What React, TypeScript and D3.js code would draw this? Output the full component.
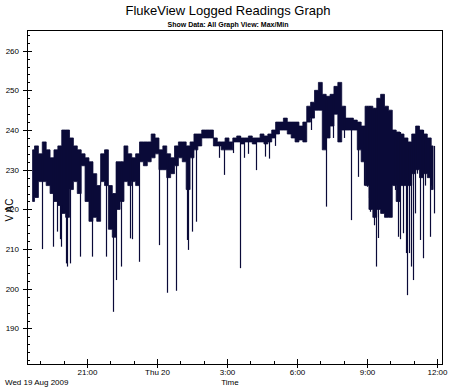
import * as d3 from "d3";

// Min/max envelope, one pair per 10-minute bucket, starting Wed 19 Aug 2009 18:40
const maxV = [
  235, 236, 234, 237, 235, 233, 235, 236, 240, 240,
  238, 236, 235, 234, 233, 232, 229, 226, 234, 235,
  226, 224, 232, 232, 236, 234, 233, 234, 237, 237,
  237, 239, 238, 235, 236, 234, 233, 236, 237, 237,
  236, 237, 239, 239, 240, 240, 240, 238, 237, 237,
  238, 237, 238, 238.5, 238, 238, 238.5, 238, 238, 239,
  238.5, 239, 240, 242, 242, 243, 242, 242, 242, 241,
  242, 246, 247, 250, 252, 249, 248.5, 249, 251, 252,
  246, 243, 243, 242.5, 242, 241, 246, 246, 245.5, 248,
  249, 246, 245, 240, 239.5, 239, 238, 237, 239, 241,
  240, 239, 238, 236,
];
const minV = [
  222, 223, 227, 227, 226, 224, 222, 221, 219, 218,
  225, 227, 224, 231, 222, 217, 218, 217, 227, 226,
  215, 213, 220, 222, 227, 226, 227, 226, 232, 231,
  232, 233, 234, 230, 230, 228, 229, 231, 233, 232,
  225, 233, 235, 236, 238, 238, 238, 236, 236, 235,
  235, 235, 237, 237, 236.5, 237, 237, 236.5, 237, 237,
  236.5, 237, 238, 239, 240, 240, 239, 238, 237, 237.5,
  237, 242, 243, 245, 245, 235, 238, 241, 244, 237,
  240, 240, 240, 240, 235, 232, 226, 220, 218, 220,
  219, 218, 218, 226, 222, 226, 226, 226, 229, 230,
  228, 229, 228, 225,
];

// short dips below the envelope: [clock time, minimum V]
const spikes: [string, number][] = [
  ["19:04", 210], ["19:33", 210.6], ["19:43", 214.4], ["19:51", 212.5],
  ["19:53", 210.6], ["20:07", 206.4], ["20:09", 205.6], ["20:15", 206.4],
  ["20:43", 208.1], ["21:14", 208.1], ["21:49", 208.1], ["22:08", 194.2],
  ["22:15", 202.2], ["22:27", 205.6], ["22:51", 212.7], ["22:56", 212.5],
  ["23:13", 206.8], ["00:06", 211], ["00:25", 199], ["00:48", 199.5],
  ["01:16", 212.3], ["01:20", 209.8], ["01:31", 214.4], ["01:40", 216.9],
  ["02:39", 233], ["02:52", 228.7], ["03:15", 234.2], ["03:34", 205.2],
  ["03:44", 233], ["03:54", 234], ["04:15", 229.9], ["04:37", 233.3],
  ["04:49", 232.8], ["05:04", 236], ["05:54", 238], ["06:35", 240],
  ["07:15", 220.7], ["07:33", 238], ["08:00", 238], ["08:19", 217.3],
  ["08:38", 228.2], ["08:53", 226], ["08:59", 225.7], ["09:05", 222.8],
  ["09:07", 219.4], ["09:17", 216], ["09:24", 205.6], ["09:28", 212.8],
  ["10:13", 224.9], ["10:20", 213.1], ["10:24", 212.5], ["10:33", 214],
  ["10:40", 209], ["10:43", 198.4], ["10:48", 209], ["10:54", 205.6],
  ["10:58", 202.2], ["11:03", 219], ["11:09", 229], ["11:16", 212.3],
  ["11:24", 207.7], ["11:28", 226], ["11:41", 213.1], ["11:45", 226],
  ["11:52", 219],
];

const yMajor = [190, 200, 210, 220, 230, 240, 250, 260];

const W = 459;
const H = 391;
const L = 27;
const R = 443;
const T = 30;
const B = 365;
const INK = "#0a0a38";
const FONT = "'Liberation Sans', Arial, sans-serif";

const start = new Date(2009, 7, 19, 18, 40);

function parseClock(s: string) {
  const [h, m] = s.split(":").map(Number);
  return new Date(2009, 7, h < 18 ? 20 : 19, h, m);
}

export default function App() {
  const x = d3
    .scaleTime()
    .domain([new Date(2009, 7, 19, 18, 25, 40), new Date(2009, 7, 20, 12, 15, 25)])
    .range([L, R]);
  const y = d3.scaleLinear().domain([180.8, 265.2]).range([B, T]);

  const rows = maxV.map((hi, i) => ({
    t: d3.timeMinute.offset(start, i * 10),
    hi,
    lo: minV[i],
  }));

  const area = d3
    .area<(typeof rows)[number]>()
    .x((d) => x(d.t))
    .y0((d) => y(d.lo))
    .y1((d) => y(d.hi))
    .curve(d3.curveStep);

  const bis = d3.bisector((d: (typeof rows)[number]) => d.t).center;

  const hours = x.ticks(d3.timeHour.every(1)!);
  const yMinor = d3.range(182, 265, 2);

  const fmt = (d: Date) =>
    d.getHours() === 0 ? "Thu 20" : `${d.getHours()}:00`;

  return (
    <svg width={W} height={H} style={{ display: "block" }} fontFamily={FONT}>
      <style>{`body{margin:0}`}</style>
      <rect width={W} height={H} fill="#fff" />
      <text x={228} y={15} fontSize={13} textAnchor="middle" fill="#000">
        FlukeView Logged Readings Graph
      </text>
      <text
        x={228}
        y={27}
        fontSize={7}
        fontWeight="bold"
        textAnchor="middle"
        fill="#000"
      >
        Show Data: All  Graph View: Max/Min
      </text>

      {/* data */}
      <path d={area(rows)!} fill={INK} stroke={INK} strokeWidth={0.8} />
      {spikes.map(([s, v], i) => {
        const t = parseClock(s);
        const r = rows[bis(rows, t)];
        const px = Math.round(x(t)) + 0.5;
        return (
          <line
            key={i}
            x1={px}
            x2={px}
            y1={y(r.hi)}
            y2={y(v)}
            stroke={INK}
            strokeWidth={1.2}
          />
        );
      })}

      {/* frame */}
      <rect
        x={L + 0.5}
        y={T + 0.5}
        width={R - L - 1}
        height={B - T - 1}
        fill="none"
        stroke="#000"
      />

      {/* y axis */}
      {yMinor.map((v) => {
        const major = v % 10 === 0;
        const py = Math.round(y(v)) + 0.5;
        return (
          <line
            key={v}
            x1={major ? L - 4 : L}
            x2={L + (major ? 5 : 3)}
            y1={py}
            y2={py}
            stroke="#000"
          />
        );
      })}
      {yMajor.map((v) => (
        <text
          key={v}
          x={19}
          y={y(v) + 3}
          fontSize={8}
          textAnchor="end"
          fill="#000"
        >
          {v}
        </text>
      ))}
      <text
        transform={`translate(13,${210}) rotate(-90)`}
        fontSize={10}
        textAnchor="middle"
        fill="#000"
      >
        V AC
      </text>

      {/* x axis */}
      {hours.map((h, i) => {
        const major = h.getHours() % 3 === 0;
        const px = Math.round(x(h)) + 0.5;
        return (
          <g key={i}>
            <line
              x1={px}
              x2={px}
              y1={B - (major ? 6 : 4)}
              y2={B + (major ? 3 : 0)}
              stroke="#000"
            />
            {major && (
              <text x={px} y={375} fontSize={8} textAnchor="middle" fill="#000">
                {fmt(h)}
              </text>
            )}
          </g>
        );
      })}
      <text x={5} y={385} fontSize={8} fill="#000">
        Wed 19 Aug 2009
      </text>
      <text x={230} y={385} fontSize={8} textAnchor="middle" fill="#000">
        Time
      </text>
    </svg>
  );
}
